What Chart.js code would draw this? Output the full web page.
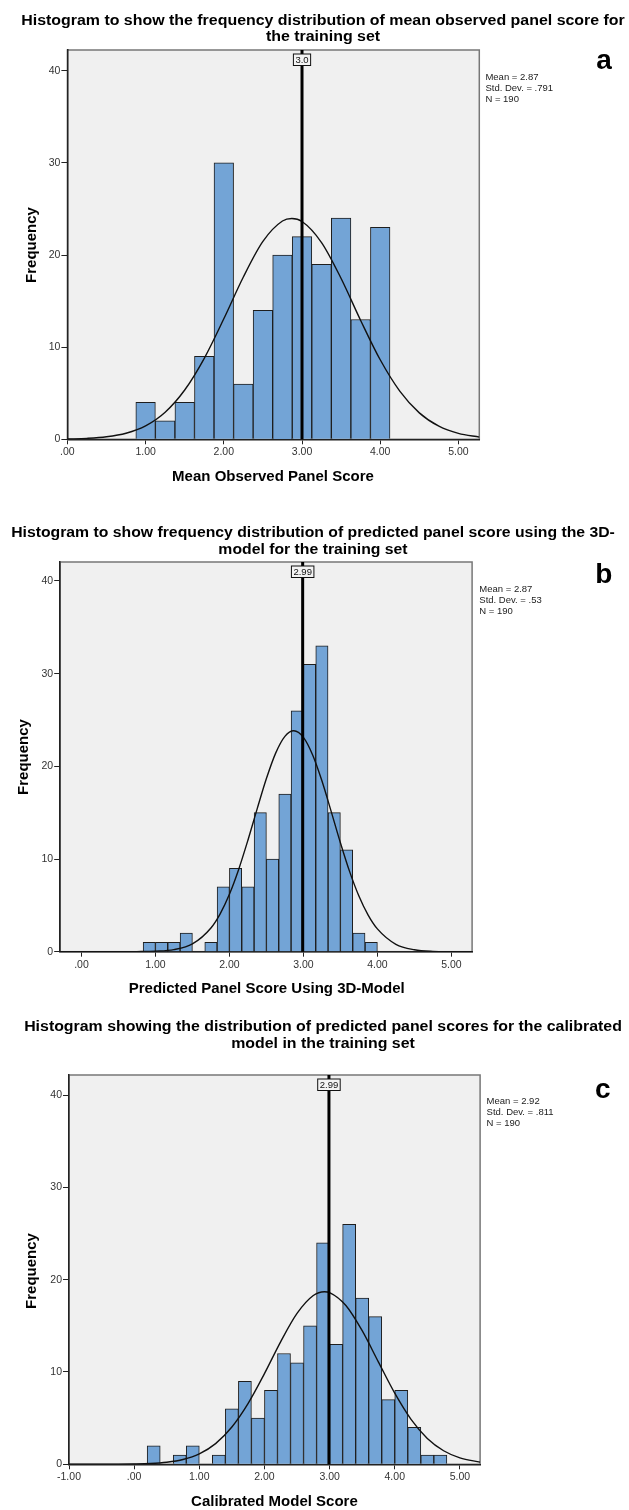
<!DOCTYPE html>
<html>
<head>
<meta charset="utf-8">
<script src="https://cdn.jsdelivr.net/npm/chart.js@4.4.1/dist/chart.umd.min.js"></script>
<style>
body { margin: 0; background: #fff; }
canvas { display: block; }
</style>
</head>
<body>
<canvas id="chartA" width="629" height="503"></canvas>
<canvas id="chartB" width="629" height="503"></canvas>
<canvas id="chartC" width="629" height="504"></canvas>
<script>
// panel a - mean observed panel score (bin width .25)
var binsA = [1.00, 1.25, 1.50, 1.75, 2.00, 2.25, 2.50, 2.75, 3.00, 3.25, 3.50, 3.75, 4.00];
var countsA = [4, 2, 4, 9, 30, 6, 14, 20, 22, 19, 24, 13, 23];
var curveXA = [0, 0.25, 0.5, 0.75, 1, 1.25, 1.5, 1.75, 2, 2.25, 2.5, 2.75, 2.87, 3, 3.25, 3.5, 3.75, 4, 4.25, 4.5, 4.75, 5, 5.27];
var curveYA = [0.03, 0.10, 0.27, 0.66, 1.46, 2.94, 5.35, 8.79, 13.08, 17.62, 21.48, 23.69, 23.96, 23.64, 21.35, 17.45, 12.90, 8.63, 5.23, 2.87, 1.42, 0.64, 0.24];
var statsA = ['Mean = 2.87', 'Std. Dev. = .791', 'N = 190'];

// panel b - predicted score, 3D-model (bin width 1/6)
var binsB = [0.917, 1.083, 1.250, 1.417, 1.583, 1.750, 1.917, 2.083, 2.250, 2.417, 2.583, 2.750, 2.917, 3.083, 3.250, 3.417, 3.583, 3.750, 3.917];
var countsB = [1, 1, 1, 2, 0, 1, 7, 9, 7, 15, 10, 17, 26, 31, 33, 15, 11, 2, 1];
var curveXB = [-0.29, 0, 0.25, 0.5, 0.75, 1, 1.25, 1.5, 1.75, 1.875, 2, 2.125, 2.25, 2.375, 2.5, 2.625, 2.75, 2.87, 3, 3.125, 3.25, 3.375, 3.5, 3.625, 3.75, 3.875, 4, 4.25, 4.5, 4.75, 5, 5.28];
var curveYB = [0, 0, 0, 0, 0.01, 0.05, 0.22, 0.84, 2.56, 4.09, 6.20, 8.88, 12.03, 15.41, 18.68, 21.43, 23.24, 23.84, 23.13, 21.23, 18.44, 15.14, 11.76, 8.64, 6.01, 3.95, 2.46, 0.80, 0.21, 0.04, 0.01, 0];
var statsB = ['Mean = 2.87', 'Std. Dev. = .53', 'N = 190'];

// panel c - calibrated model score (bin width .2)
var binsC = [0.3, 0.5, 0.7, 0.9, 1.1, 1.3, 1.5, 1.7, 1.9, 2.1, 2.3, 2.5, 2.7, 2.9, 3.1, 3.3, 3.5, 3.7, 3.9, 4.1, 4.3, 4.5, 4.7];
var countsC = [2, 0, 1, 2, 0, 1, 6, 9, 5, 8, 12, 11, 15, 24, 13, 26, 18, 16, 7, 8, 4, 1, 1];
var curveXC = [-1, -0.5, 0, 0.25, 0.5, 0.75, 1, 1.25, 1.5, 1.75, 2, 2.25, 2.5, 2.75, 2.92, 3, 3.25, 3.5, 3.75, 4, 4.25, 4.5, 4.75, 5, 5.31];
var curveYC = [0, 0, 0.03, 0.08, 0.22, 0.52, 1.13, 2.24, 4.04, 6.60, 9.82, 13.29, 16.34, 18.28, 18.69, 18.60, 17.20, 14.47, 11.07, 7.70, 4.87, 2.80, 1.47, 0.70, 0.24];
var statsC = ['Mean = 2.92', 'Std. Dev. = .811', 'N = 190'];

// reference lines at the top of each panel
var refValues = [3.0, 2.99, 2.99];
var refLabels = ['3.0', '2.99', '2.99'];

var yTicks = [0, 10, 20, 30, 40];

var FONT = '"Liberation Sans", Arial, sans-serif';

var panels = [
  {
    id: 'chartA', bins: binsA, counts: countsA, cx: curveXA, cy: curveYA, stats: statsA,
    ref: refValues[0], refLabel: refLabels[0],
    xMin: 0, xMax: 5.267, yMax: 42.25,
    area: { left: 67.4, top: 50, right: 479.3, bottom: 439.3 },
    title: ['Histogram to show the frequency distribution of mean observed panel score for', 'the training set'],
    titleX: 323, titleY: [21.5, 37], titleW: 603.6,
    xTitle: 'Mean Observed Panel Score', xTitleX: 273, xTitleY: 476.7,
    yTitleX: 32, yTitleY: 245,
    statsX: 485.4, statsY: [77.3, 88.3, 99],
    letter: 'a', letterX: 604, letterY: 61
  },
  {
    id: 'chartB', bins: binsB, counts: countsB, cx: curveXB, cy: curveYB, stats: statsB,
    ref: refValues[1], refLabel: refLabels[1],
    xMin: -0.287, xMax: 5.28, yMax: 42.05,
    area: { left: 60.2, top: 59, right: 472.1, bottom: 448.7 },
    title: ['Histogram to show frequency distribution of predicted panel score using the 3D-', 'model for the training set'],
    titleX: 313, titleY: [30.5, 47], titleW: 603.7,
    xTitle: 'Predicted Panel Score Using 3D-Model', xTitleX: 266.7, xTitleY: 486.3,
    yTitleX: 24, yTitleY: 254,
    statsX: 479.3, statsY: [86, 97, 108],
    letter: 'b', letterX: 603.7, letterY: 72
  },
  {
    id: 'chartC', bins: binsC, counts: countsC, cx: curveXC, cy: curveYC, stats: statsC,
    ref: refValues[2], refLabel: refLabels[2],
    xMin: -1, xMax: 5.31, yMax: 42.17,
    area: { left: 69, top: 69, right: 480.1, bottom: 458.3 },
    title: ['Histogram showing the distribution of predicted panel scores for the calibrated', 'model in the training set'],
    titleX: 323, titleY: [21.5, 38.5], titleW: 597.7,
    xTitle: 'Calibrated Model Score', xTitleX: 274.4, xTitleY: 495.7,
    yTitleX: 32, yTitleY: 265,
    statsX: 486.6, statsY: [95.7, 106.7, 117.3],
    letter: 'c', letterX: 602.7, letterY: 84
  }
];

var spssPlugin = {
  id: 'spss',
  beforeDraw: function (chart) {
    var a = chart.chartArea, ctx = chart.ctx;
    ctx.save();
    ctx.fillStyle = '#f0f0f0';
    ctx.fillRect(a.left, a.top, a.right - a.left, a.bottom - a.top);
    ctx.strokeStyle = '#777';
    ctx.lineWidth = 1.5;
    ctx.strokeRect(a.left, a.top, a.right - a.left, a.bottom - a.top);
    ctx.restore();
  },
  afterDatasetsDraw: function (chart) {
    var p = chart.options.plugins.spss;
    var a = chart.chartArea, ctx = chart.ctx;
    var x = chart.scales.x.getPixelForValue(p.ref);
    ctx.save();
    ctx.strokeStyle = '#000';
    ctx.lineWidth = 3;
    ctx.beginPath();
    ctx.moveTo(x, a.top);
    ctx.lineTo(x, a.bottom);
    ctx.stroke();
    // label box
    ctx.font = '9.5px ' + FONT;
    var w = ctx.measureText(p.refLabel).width + 4;
    var bt = a.top + 4, bh = 11.5;
    ctx.fillStyle = '#f4f4f4';
    ctx.fillRect(x - w / 2, bt, w, bh);
    ctx.lineWidth = 1;
    ctx.strokeStyle = '#111';
    ctx.strokeRect(x - w / 2, bt, w, bh);
    ctx.fillStyle = '#111';
    ctx.textAlign = 'center';
    ctx.textBaseline = 'middle';
    ctx.fillText(p.refLabel, x, bt + bh / 2 + 0.5);
    ctx.restore();
  },
  afterDraw: function (chart) {
    var p = chart.options.plugins.spss;
    var ctx = chart.ctx;
    ctx.save();
    ctx.fillStyle = '#000';
    ctx.textBaseline = 'middle';
    ctx.textAlign = 'center';
    // title: bold, scaled sideways so the first line fills the measured width
    ctx.font = 'bold 14px ' + FONT;
    var sx = p.titleW / ctx.measureText(p.title[0]).width;
    p.title.forEach(function (t, i) {
      ctx.save();
      ctx.translate(p.titleX, p.titleY[i]);
      ctx.scale(sx, 1);
      ctx.fillText(t, 0, 0);
      ctx.restore();
    });
    // axis titles
    ctx.font = 'bold 15px ' + FONT;
    ctx.fillText(p.xTitle, p.xTitleX, p.xTitleY);
    ctx.save();
    ctx.translate(p.yTitleX, p.yTitleY);
    ctx.rotate(-Math.PI / 2);
    ctx.fillText('Frequency', 0, 0);
    ctx.restore();
    // panel letter
    ctx.font = 'bold 28px ' + FONT;
    ctx.fillText(p.letter, p.letterX, p.letterY);
    // stats
    ctx.textAlign = 'left';
    ctx.fillStyle = '#222';
    ctx.font = '9.5px ' + FONT;
    p.stats.forEach(function (t, i) { ctx.fillText(t, p.statsX, p.statsY[i]); });
    ctx.restore();
  }
};

panels.forEach(function (p) {
  var canvas = document.getElementById(p.id);
  var W = canvas.width, H = canvas.height;
  var bars = p.bins.map(function (b, i) { return { x: b, y: p.counts[i] }; });
  var curve = p.cx.map(function (v, i) { return { x: v, y: p.cy[i] }; });

  new Chart(canvas.getContext('2d'), {
    type: 'bar',
    data: {
      datasets: [
        {
          type: 'line',
          data: curve,
          borderColor: '#111',
          borderWidth: 1.4,
          pointRadius: 0,
          fill: false,
          cubicInterpolationMode: 'monotone',
          order: 0
        },
        {
          type: 'bar',
          data: bars,
          backgroundColor: '#73a4d6',
          borderColor: '#1e1e1e',
          borderWidth: 1,
          barPercentage: 1,
          categoryPercentage: 1,
          order: 1
        }
      ]
    },
    options: {
      responsive: false,
      devicePixelRatio: 1,
      animation: false,
      events: [],
      layout: {
        padding: { left: 0, top: p.area.top, right: W - p.area.right, bottom: 0 }
      },
      plugins: {
        legend: { display: false },
        tooltip: { enabled: false },
        spss: p
      },
      scales: {
        x: {
          type: 'linear',
          min: p.xMin,
          max: p.xMax,
          offset: false,
          grid: { offset: false, drawOnChartArea: false, drawTicks: true, tickLength: 5, color: '#222', lineWidth: 1 },
          border: { display: true, color: '#222', width: 1.5 },
          ticks: {
            stepSize: 1,
            includeBounds: false,
            maxRotation: 0,
            padding: 2,
            color: '#333',
            font: { family: FONT, size: 10.5 },
            callback: function (v) { return v === 0 ? '.00' : v.toFixed(2); }
          },
          afterFit: function (scale) { scale.height = H - p.area.bottom; }
        },
        y: {
          type: 'linear',
          min: 0,
          max: p.yMax,
          grid: { drawOnChartArea: false, drawTicks: true, tickLength: 6, color: '#222', lineWidth: 1 },
          border: { display: true, color: '#222', width: 1.5 },
          afterBuildTicks: function (scale) {
            scale.ticks = yTicks.map(function (v) { return { value: v }; });
          },
          ticks: {
            padding: 1,
            color: '#333',
            font: { family: FONT, size: 10.5 }
          },
          afterFit: function (scale) { scale.width = p.area.left; }
        }
      }
    },
    plugins: [spssPlugin]
  });
});
</script>
</body>
</html>
